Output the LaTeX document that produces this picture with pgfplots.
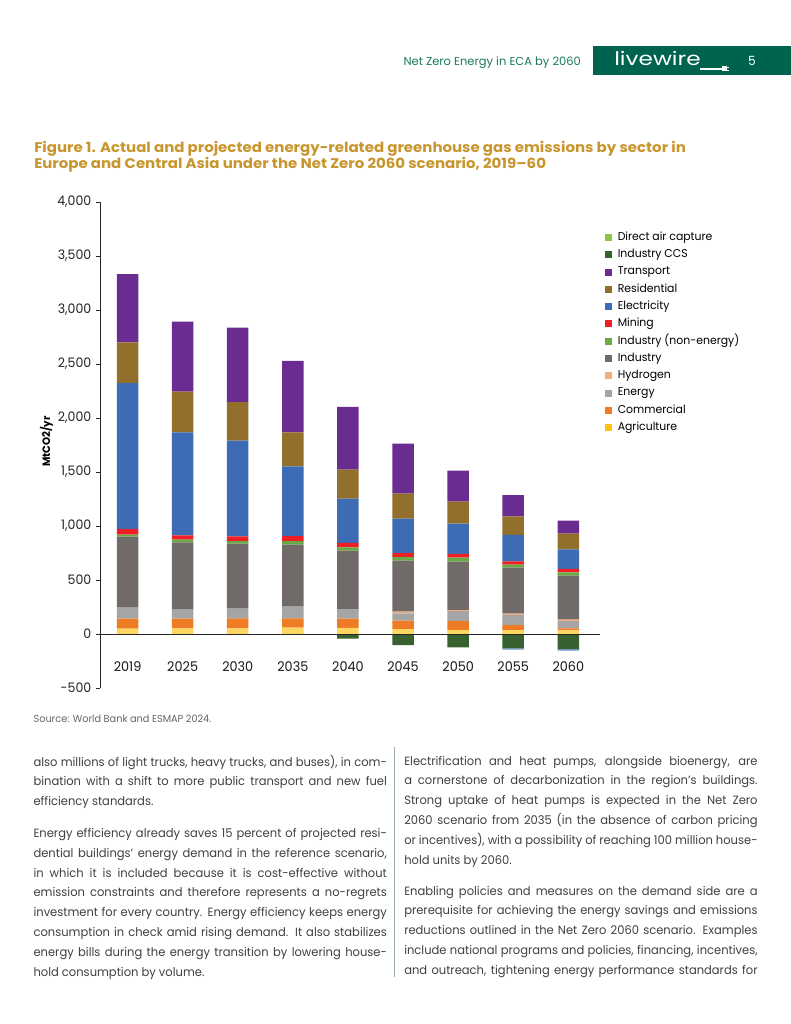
\documentclass[border=0pt]{standalone}
\usepackage{fontspec}
\usepackage{graphicx}
\setmainfont{Poppins}[FakeStretch=0.96]
\newfontfamily\logofont{Poppins}[FakeStretch=1.24]
\newfontfamily\titlefont{Poppins}[FakeStretch=1.07, Ligatures=TeX]
\newfontfamily\hdrfont{Poppins}
\usepackage{pgfplots}
\usepackage{pgfplotstable}
\pgfplotsset{compat=1.18}

\definecolor{dac}{HTML}{8CC63F}
\definecolor{ccs}{HTML}{37622F}
\definecolor{transport}{HTML}{6A2C91}
\definecolor{resid}{HTML}{92702C}
\definecolor{elec}{HTML}{3D6CB4}
\definecolor{elecneg}{HTML}{7397CF}
\definecolor{mining}{HTML}{EE2025}
\definecolor{indne}{HTML}{6AAA45}
\definecolor{ind}{HTML}{706B69}
\definecolor{hydro}{HTML}{F3AE7E}
\definecolor{energy}{HTML}{A5A5A5}
\definecolor{comm}{HTML}{EE7B26}
\definecolor{agri}{HTML}{FCD65E}
\definecolor{agrileg}{HTML}{FFC20E}
\definecolor{hdrgreen}{HTML}{00634F}
\definecolor{hdrtext}{HTML}{1B7A5E}
\definecolor{titlegold}{HTML}{C8962D}
\definecolor{sepline}{HTML}{9AB0A6}

% positive sectors, MtCO2/yr, one row per year (0 = 2019 ... 8 = 2060)
\pgfplotstableread{
yr agri comm energy hydro ind indne mining elec resid transport
0 49 93 102 0 657 19 52 1352 376 633
1 52 90 83 0 624 24 41 953 377 648
2 52 93 90 0 601 25 43 886 358 688
3 59 86 108 0 574 34 46 645 315 661
4 56 86 89 0 541 30 41 410 269 580
5 46 77 68 16 472 34 37 318 231 463
6 37 83 93 9 448 37 34 281 203 287
7 37 46 93 12 426 28 31 244 173 197
8 34 18 68 13 407 31 31 182 145 120
}\posdata

% negative (removals)
\pgfplotstableread{
yr ccs elecneg
0 0 0
1 0 0
2 0 0
3 0 0
4 -43 0
5 -102 0
6 -123 0
7 -132 -12
8 -139 -15
}\negdata

\pgfplotsset{
  emis/.style={
    width=375pt, height=364.5pt, scale only axis,
    at={(75pt,-516pt)}, anchor=south west,
    xmin=-0.5, xmax=8.575, ymin=-500, ymax=4000,
    ybar stacked, bar width=0.39,
  }
}
\newcommand\sq[1]{\addlegendimage{legend image code/.code={\fill[#1] (0pt,-2.25pt) rectangle (4.5pt,2.25pt);}}}
\newcommand\bodyfont{\fontsize{9pt}{14.85pt}\selectfont}

\begin{document}
\begin{tikzpicture}
\begin{scope}[x=0.75pt,y=-0.75pt]
\fill[white,use as bounding box] (0,0) rectangle (791,1024);
% header
\node[anchor=base west, inner sep=0, text=hdrtext] at (403.3,65) {\resizebox{133pt}{!}{\hdrfont\fontsize{9pt}{11pt}\selectfont Net Zero Energy in ECA by 2060}};
\fill[hdrgreen] (593.3,46) rectangle (791,75);
\node[anchor=base west, inner sep=0, text=white, font=\logofont\fontsize{14pt}{15pt}\selectfont] at (614,66) {livewire};
\draw[white, line width=0.9pt] (700,69) -- (722,69);
\fill[white] (722,66.5) rectangle (726.5,71.5);
\draw[white, line width=0.6pt] (726.5,67.5) -- (729,67.5) (726.5,70.5) -- (729,70.5);
\node[anchor=base, inner sep=0, text=white, font=\fontsize{9.5pt}{11pt}\selectfont] at (752,66) {5};
% title
\node[anchor=base west, inner sep=0, text=titlegold, font=\titlefont\fontsize{10.5pt}{12pt}\selectfont\bfseries] at (34,152.5) {Figure 1. Actual and projected energy-related greenhouse gas emissions by sector in};
\node[anchor=base west, inner sep=0, text=titlegold, font=\titlefont\fontsize{10.5pt}{12pt}\selectfont\bfseries] at (34,168.5) {Europe and Central Asia under the Net Zero 2060 scenario, 2019–60};
% source
\node[anchor=base west, inner sep=0, text=black!60, font=\fontsize{7.6pt}{8pt}\selectfont] at (33.3,722) {Source: World Bank and ESMAP 2024.};
% body text
\draw[sepline, line width=0.75pt] (394.5,747) -- (394.5,977);
\node[anchor=base west, inner sep=0, text=black!75] at (33.3,766) {\parbox[t]{265pt}{\bodyfont
also millions of light trucks, heavy trucks, and buses), in com-\linebreak bination with a shift to more public transport and new fuel\linebreak efficiency standards.}};
\node[anchor=base west, inner sep=0, text=black!75] at (33.3,837.5) {\parbox[t]{265pt}{\bodyfont
Energy efficiency already saves 15 percent of projected resi-\linebreak dential buildings' energy demand in the reference scenario,\linebreak in which it is included because it is cost-effective without\linebreak emission constraints and therefore represents a no-regrets\linebreak investment for every country. Energy efficiency keeps energy\linebreak consumption in check amid rising demand. It also stabilizes\linebreak energy bills during the energy transition by lowering house-\linebreak hold consumption by volume.}};
\node[anchor=base west, inner sep=0, text=black!75] at (404,765) {\parbox[t]{265pt}{\bodyfont
Electrification and heat pumps, alongside bioenergy, are\linebreak a cornerstone of decarbonization in the region's buildings.\linebreak Strong uptake of heat pumps is expected in the Net Zero\linebreak 2060 scenario from 2035 (in the absence of carbon pricing\linebreak or incentives), with a possibility of reaching 100 million house-\linebreak hold units by 2060.}};
\node[anchor=base west, inner sep=0, text=black!75] at (404,895) {\parbox[t]{265pt}{\bodyfont\parfillskip=0pt
Enabling policies and measures on the demand side are a\linebreak prerequisite for achieving the energy savings and emissions\linebreak reductions outlined in the Net Zero 2060 scenario. Examples\linebreak include national programs and policies, financing, incentives,\linebreak and outreach, tightening energy performance standards for}};
\end{scope}

% removals, stacked below zero
\begin{axis}[emis, hide axis]
\addplot[fill=ccs, draw=none] table[x=yr,y=ccs]{\negdata};
\addplot[fill=elecneg, draw=none] table[x=yr,y=elecneg]{\negdata};
\end{axis}

\begin{axis}[emis, axis on top,
  axis y line*=left, axis x line*=middle,
  axis line style={-, black!85, line width=0.75pt},
  every inner x axis line/.append style={-},
  every outer y axis line/.append style={-},
  hide obscured y ticks=false,
  ytick={-500,0,500,1000,1500,2000,2500,3000,3500,4000},
  tick align=outside, major tick length=3pt,
  ytick style={black!85, line width=0.75pt},
  /pgf/number format/1000 sep={,},
  /pgf/number format/assume math mode=true,
  yticklabel style={font=\fontsize{9.8pt}{11pt}\selectfont, text=black!85},
  xtick={0,...,8},
  xticklabels={2019,2025,2030,2035,2040,2045,2050,2055,2060},
  xtick style={draw=none},
  xticklabel style={font=\fontsize{10pt}{11pt}\selectfont, text=black!90, yshift=-14pt},
  ylabel={MtCO2/yr},
  ylabel style={font=\fontsize{8pt}{10pt}\selectfont\bfseries, at={(axis description cs:-0.107,0.507)}, anchor=center},
  legend cell align=left,
  legend style={at={(axis description cs:1.01,0.938)}, anchor=north west, draw=none, fill=none, inner sep=0pt,
    font=\fontsize{8.5pt}{10pt}\selectfont, row sep=5.45pt,
    nodes={inner sep=0pt, text height=6pt, text depth=1.5pt},
    /tikz/every odd column/.append style={column sep=4.5pt}},
]
\addplot[fill=agri, draw=none, forget plot] table[x=yr,y=agri]{\posdata};
\addplot[fill=comm, draw=none, forget plot] table[x=yr,y=comm]{\posdata};
\addplot[fill=energy, draw=none, forget plot] table[x=yr,y=energy]{\posdata};
\addplot[fill=hydro, draw=none, forget plot] table[x=yr,y=hydro]{\posdata};
\addplot[fill=ind, draw=none, forget plot] table[x=yr,y=ind]{\posdata};
\addplot[fill=indne, draw=none, forget plot] table[x=yr,y=indne]{\posdata};
\addplot[fill=mining, draw=none, forget plot] table[x=yr,y=mining]{\posdata};
\addplot[fill=elec, draw=none, forget plot] table[x=yr,y=elec]{\posdata};
\addplot[fill=resid, draw=none, forget plot] table[x=yr,y=resid]{\posdata};
\addplot[fill=transport, draw=none, forget plot] table[x=yr,y=transport]{\posdata};

\sq{dac} \addlegendentry{Direct air capture}
\sq{ccs} \addlegendentry{Industry CCS}
\sq{transport} \addlegendentry{Transport}
\sq{resid} \addlegendentry{Residential}
\sq{elec} \addlegendentry{Electricity}
\sq{mining} \addlegendentry{Mining}
\sq{indne} \addlegendentry{Industry (non-energy)}
\sq{ind} \addlegendentry{Industry}
\sq{hydro} \addlegendentry{Hydrogen}
\sq{energy} \addlegendentry{Energy}
\sq{comm} \addlegendentry{Commercial}
\sq{agrileg} \addlegendentry{Agriculture}
\end{axis}
\end{tikzpicture}
\end{document}
